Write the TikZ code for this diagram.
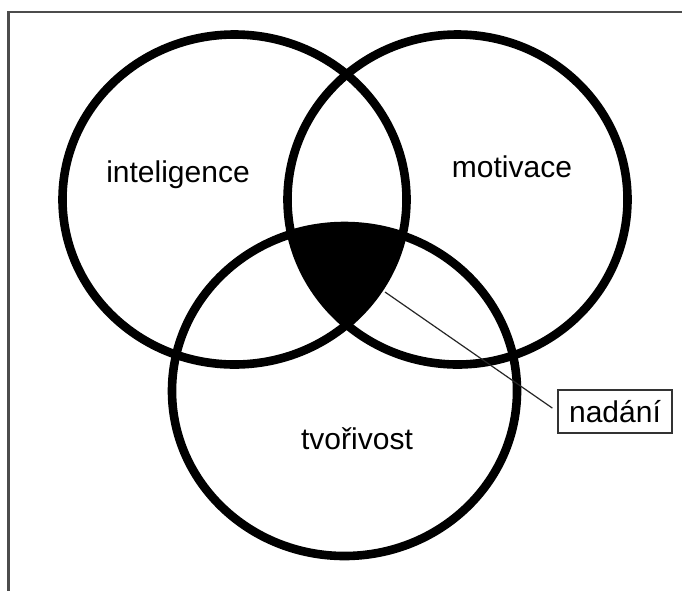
\documentclass[tikz,border=0pt]{standalone}
\usepackage{fontspec}
\setmainfont{Liberation Sans}
\begin{document}
\begin{tikzpicture}[x=1pt,y=-1pt,
  ring/.style={line width=8.6pt, draw=black},
  lbl/.style={font=\fontsize{30}{36}\selectfont, anchor=base, inner sep=0pt},
  tagbox/.style={draw=black!80, line width=1.4pt, font=\fontsize{30}{36}\selectfont,
    minimum width=114pt, minimum height=43pt, inner sep=0pt},
  leader/.style={draw=black!85, line width=1.2pt}]
\clip (0,0) rectangle (682,590);
\fill[white] (0,0) rectangle (682,590);
% frame
\draw[draw=black!70, line width=2.6pt] (8.7,12) rectangle (700,610);
% common region
\begin{scope}
  \clip (234.5,199.5) ellipse [x radius=172, y radius=165];
  \clip (457.5,199.5) ellipse [x radius=170, y radius=165];
  \fill[black] (344.5,391) ellipse [x radius=172.5, y radius=165];
\end{scope}
% circles
\draw[ring] (234.5,199.5) ellipse [x radius=172, y radius=165];
\draw[ring] (457.5,199.5) ellipse [x radius=170, y radius=165];
\draw[ring] (344.5,391) ellipse [x radius=172.5, y radius=165];
% labels
\node[lbl] (intel) at (178,182) {inteligence};
\node[lbl] (motiv) at (512,177) {motivace};
\node[lbl] (tvor) at (357,449) {tvořivost};
\node[tagbox] (nadani) at (615,411.5) {nadání};
\coordinate (tip) at (385,292);
\draw[leader, shorten >=6pt] (tip) -- (nadani.west);
\end{tikzpicture}
\end{document}
